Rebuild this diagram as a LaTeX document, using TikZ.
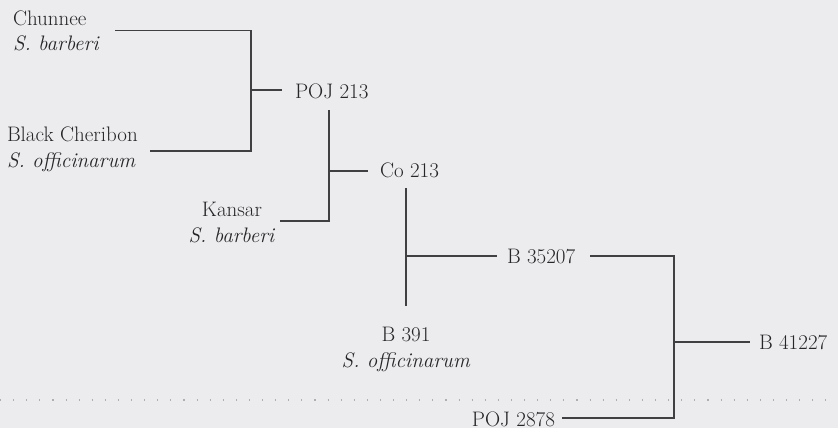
\documentclass[tikz,border=0pt]{standalone}
\usepackage{fontspec}
\definecolor{bgc}{RGB}{236,236,238}
\definecolor{linec}{RGB}{64,64,66}
\definecolor{txtc}{RGB}{38,38,40}
\definecolor{dotc}{RGB}{175,175,178}
\begin{document}
\begin{tikzpicture}[x=1pt,y=-1pt,
  lbl/.style={inner sep=0pt, outer sep=0pt, font=\fontsize{21}{25.5}\selectfont, text=txtc},
  ln/.style={draw=linec, line width=1.3pt, line cap=butt, line join=miter},
  dotline/.style={draw=dotc, line width=1.1pt, dash pattern=on 1.1pt off 12pt}]
\fill[bgc] (0,0) rectangle (838,428);
\useasboundingbox (0,0) rectangle (838,428);
\draw[dotline] (0,400) -- (838,400);

% labels (base anchor = baseline of the last line)
\node[lbl, anchor=base west, align=left] (chun) at (13,51) {Chunnee\\\textit{S. barberi}};
\node[lbl, anchor=base west, align=left] (cher) at (7,167) {Black Cheribon\\\textit{S. officinarum}};
\node[lbl, anchor=base, align=center] (kans) at (232,242) {Kansar\\\textit{S. barberi}};
\node[lbl, anchor=base west] (poj213) at (295,99) {POJ 213};
\node[lbl, anchor=base west] (co213) at (380,177) {Co 213};
\node[lbl, anchor=base west] (b35207) at (507,263) {B 35207};
\node[lbl, anchor=base, align=center] (b391) at (406,367) {B 391\\\textit{S. officinarum}};
\node[lbl, anchor=base west] (b41227) at (759,349) {B 41227};
\node[lbl, anchor=base east] (poj2878) at (555,426) {POJ 2878};

% junction coordinates
\coordinate (chunE) at (115,30.7);
\coordinate (cherE) at (150,151);
\coordinate (j1a) at (251,30.7);
\coordinate (j1b) at (251,151);
\coordinate (j1m) at (251,90);
\coordinate (pojW) at (282,90);
\coordinate (j2a) at (329,110);
\coordinate (j2b) at (329,221);
\coordinate (kansE) at (280,221);
\coordinate (j2m) at (329,171);
\coordinate (coW) at (368,171);
\coordinate (j3a) at (406,188);
\coordinate (j3b) at (406,306);
\coordinate (j3m) at (406,256);
\coordinate (bW) at (497,256);
\coordinate (bE) at (590,256);
\coordinate (j4a) at (674,256);
\coordinate (j4b) at (674,418);
\coordinate (j4m) at (674,342);
\coordinate (b4W) at (750,342);
\coordinate (pE) at (562,418);

% connectors
\draw[ln] (chunE) -- (j1a) -- (j1b) -- (cherE);
\draw[ln] (j1m) -- (pojW);
\draw[ln] (j2a) -- (j2b) -- (kansE);
\draw[ln] (j2m) -- (coW);
\draw[ln] (j3a) -- (j3b);
\draw[ln] (j3m) -- (bW);
\draw[ln] (bE) -- (j4a) -- (j4b) -- (pE);
\draw[ln] (j4m) -- (b4W);
\end{tikzpicture}
\end{document}
